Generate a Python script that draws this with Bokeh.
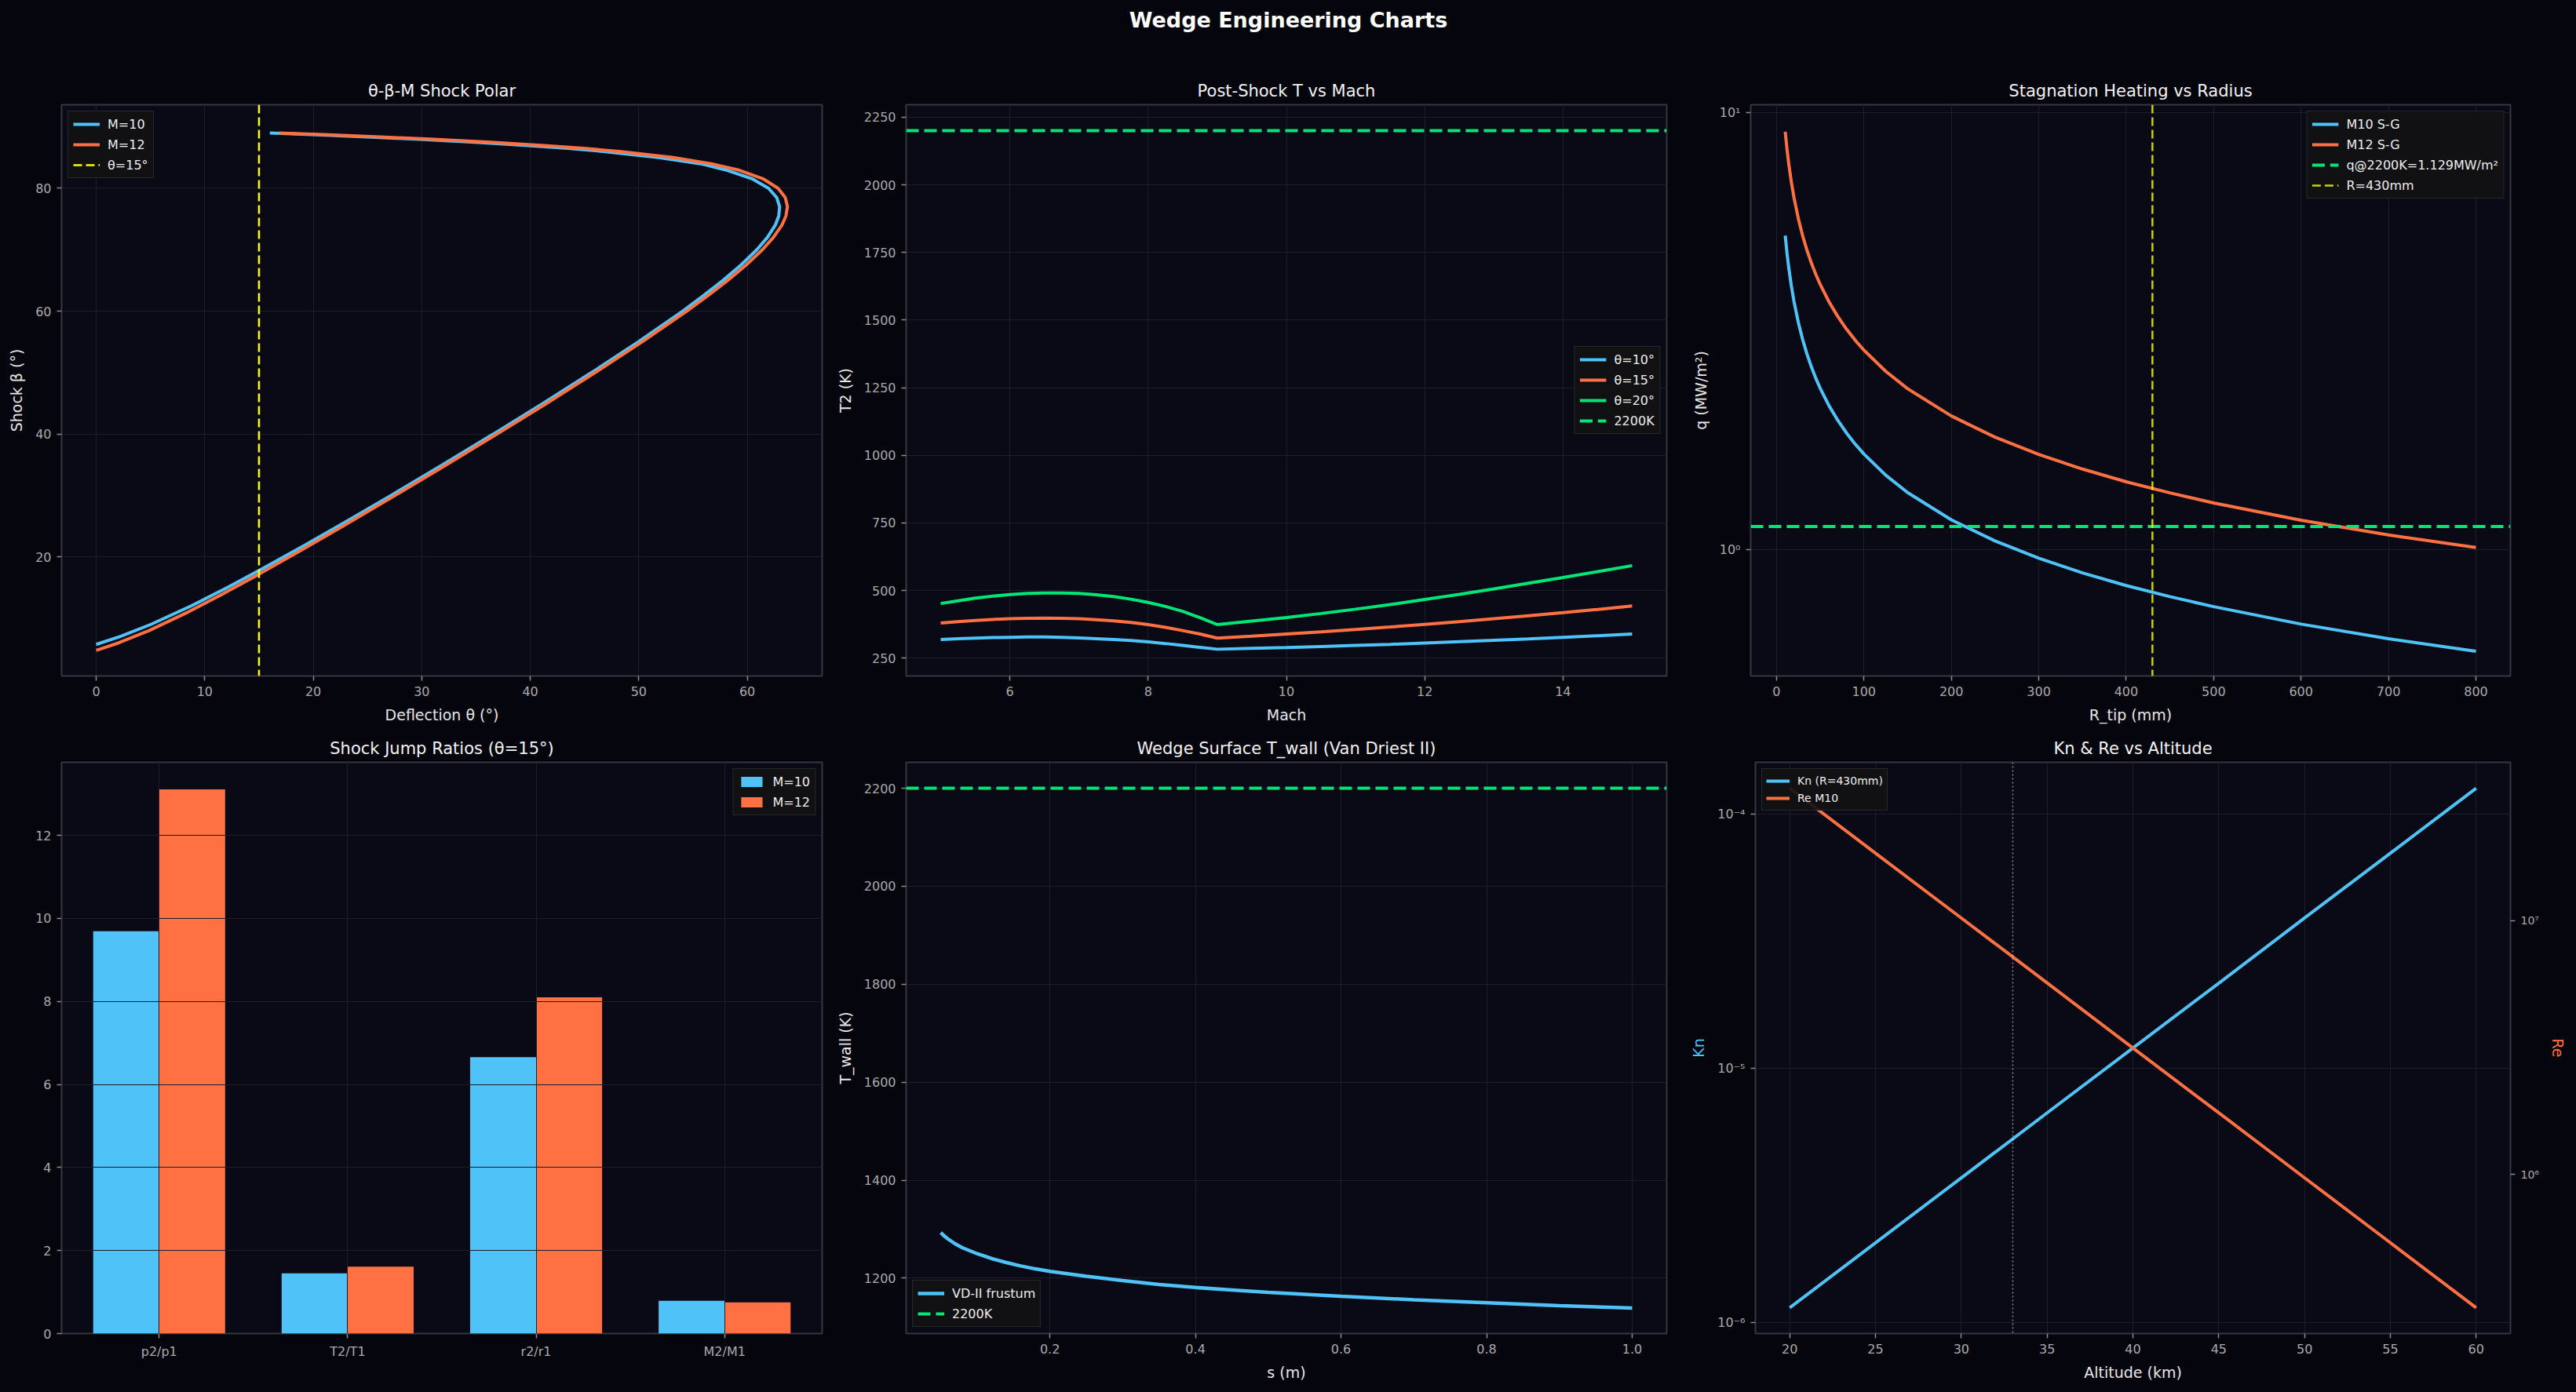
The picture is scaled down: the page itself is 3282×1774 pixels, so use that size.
from bokeh.plotting import figure
from bokeh.layouts import column, row
from bokeh.models import (Range1d, FactorRange, Span, Legend, LegendItem, FixedTicker,
                          CustomJSTickFormatter, PrintfTickFormatter, LogScale, LogAxis,
                          Label, ColumnDataSource)
from bokeh.transform import dodge
from bokeh.embed import file_html
from bokeh.resources import INLINE

# ---------------- palette ----------------
FIG_BG = "#05050d"
AX_BG = "#0a0a16"
SPINE = "#363640"
GRID = "#1d1d2b"
TICK_TXT = "#aaaaaa"
LABEL_TXT = "#e6e6e6"
BLUE = "#4fc3f7"
ORANGE = "#ff7043"
GREEN = "#00e676"
YELLOW = "#ffff00"
FONT = "DejaVu Sans"
NAN = float("nan")

# ---------------- data ----------------
# theta-beta-M shock polar (deg)
beta_m10 = [5.74, 7, 9, 12, 15, 18, 22, 26, 30, 35, 40, 45, 50, 55, 60, 62.5, 65, 67.5, 70, 72,
            74, 75.5, 77, 78.5, 80, 81.5, 83, 84, 85, 86, 86.5, 87, 87.5, 88, 88.3, 88.7, 89]
theta_m10 = [0, 2.17, 5.04, 8.74, 12.09, 15.25, 19.33, 23.28, 27.17, 31.93, 36.61, 41.19, 45.65,
             49.96, 54.04, 55.95, 57.76, 59.42, 60.88, 61.85, 62.58, 62.90, 62.98, 62.71, 61.96,
             60.50, 57.99, 55.70, 51.82, 46.72, 43.43, 39.51, 34.87, 29.42, 25.74, 20.36, 16.0]
beta_m12 = [4.78, 6, 8, 11, 14, 17, 21, 25, 30, 35, 40, 45, 50, 55, 60, 62.5, 65, 67.5, 70, 72,
            74, 75.5, 77, 78.5, 80, 81.5, 83, 84, 85, 86, 86.5, 87, 87.5, 88, 88.3, 88.7, 89]
theta_m12 = [0, 2.07, 4.87, 8.45, 11.71, 14.81, 18.82, 22.74, 27.55, 32.28, 36.94, 41.52, 45.98,
             50.31, 54.41, 56.36, 58.19, 59.89, 61.39, 62.40, 63.19, 63.56, 63.70, 63.50, 62.84,
             61.50, 59.13, 56.67, 53.18, 48.19, 44.92, 41.01, 36.33, 30.77, 26.99, 21.41, 16.84]
theta_ref = 15

# post-shock temperature vs Mach (K)
mach = [5, 5.25, 5.5, 5.75, 6, 6.25, 6.5, 6.75, 7, 7.25, 7.5, 7.75, 8, 8.25, 8.5, 8.75, 9,
        9.5, 10, 10.5, 11, 11.5, 12, 12.5, 13, 13.5, 14, 14.5, 15]
t2_th10 = [319, 322, 324, 326, 327, 328, 328, 327, 325, 322, 319, 315, 310, 304, 297, 290, 283,
           286, 289, 293, 297, 301, 306, 311, 316, 321, 327, 333, 339]
t2_th15 = [380, 385, 389, 393, 396, 397.5, 398, 397.5, 396, 392, 388, 382, 374, 364, 352, 339,
           324, 331, 339, 347, 356, 365, 375, 385, 396, 407, 418, 430, 443]
t2_th20 = [452, 462, 472, 479, 485, 489, 491, 491, 489, 484, 478, 468, 456, 441, 423, 400, 374,
           387, 400, 415, 431, 448, 467, 486, 506, 527, 548, 570, 592]
t_limit = 2200

# stagnation heating vs nose radius
r_tip = [10, 12, 14, 17, 20, 25, 30, 35, 40, 45, 50, 60, 70, 80, 90, 100, 125, 150, 200, 250,
         300, 350, 400, 450, 500, 600, 700, 800]
q_m10 = [5.230, 4.774, 4.420, 4.011, 3.698, 3.308, 3.020, 2.796, 2.615, 2.465, 2.339, 2.135,
         1.977, 1.849, 1.743, 1.654, 1.479, 1.350, 1.169, 1.046, 0.955, 0.884, 0.827, 0.780,
         0.740, 0.675, 0.625, 0.585]
q_m12 = [9.040, 8.252, 7.640, 6.933, 6.392, 5.717, 5.219, 4.832, 4.520, 4.261, 4.043, 3.691,
         3.417, 3.196, 3.013, 2.859, 2.557, 2.334, 2.021, 1.808, 1.650, 1.528, 1.429, 1.348,
         1.278, 1.167, 1.080, 1.011]
q_limit = 1.129
r_design = 430

# shock jump ratios at theta = 15 deg
ratio_names = ["p2/p1", "T2/T1", "r2/r1", "M2/M1"]
ratio_m10 = [9.69, 1.45, 6.66, 0.79]
ratio_m12 = [13.11, 1.61, 8.10, 0.75]

# Van Driest II wall temperature along the surface
s_m = [0.05, 0.055, 0.06, 0.07, 0.08, 0.09, 0.1, 0.12, 0.14, 0.16, 0.18, 0.2, 0.25, 0.3, 0.35,
       0.4, 0.45, 0.5, 0.6, 0.7, 0.8, 0.9, 1.0]
t_wall = [1293, 1286, 1280, 1270, 1262, 1256, 1250, 1240, 1232, 1225, 1219, 1214, 1204, 1195,
          1187, 1181, 1176, 1171, 1163, 1156, 1150, 1144, 1139]

# Knudsen / Reynolds number vs altitude
alt_km = [20, 25, 30, 35, 40, 45, 50, 55, 60]
kn = [1.145e-6, 2.06e-6, 3.71e-6, 6.68e-6, 1.202e-5, 2.16e-5, 3.90e-5, 7.01e-5, 1.262e-4]
re_m10 = [3.32e7, 1.84e7, 1.023e7, 5.68e6, 3.15e6, 1.75e6, 9.71e5, 5.39e5, 2.99e5]
alt_mark = 33

SUP_JS = """
const sup = {"-": "\u207b", "0": "\u2070", "1": "\u00b9", "2": "\u00b2", "3": "\u00b3",
             "4": "\u2074", "5": "\u2075", "6": "\u2076", "7": "\u2077", "8": "\u2078", "9": "\u2079"};
const e = Math.round(Math.log10(tick));
return "10" + String(e).split("").map(c => sup[c]).join("");
"""


def style_axis(ax, label, color=LABEL_TXT):
    ax.axis_label = label
    ax.axis_label_text_font = FONT
    ax.axis_label_text_font_size = "19px"
    ax.axis_label_text_font_style = "normal"
    ax.axis_label_text_color = color
    ax.axis_label_standoff = 10
    ax.major_label_text_font = FONT
    ax.major_label_text_font_size = "16px"
    ax.major_label_text_color = TICK_TXT
    ax.major_label_standoff = 7
    ax.axis_line_color = None
    ax.major_tick_line_color = "#8a8a8a"
    ax.major_tick_line_width = 1.5
    ax.major_tick_in = 0
    ax.major_tick_out = 6
    ax.minor_tick_line_color = None


def make_fig(title, width, height, bl, br, bt, bb, xlabel, ylabel, **kw):
    p = figure(width=width, height=height, title=title, output_backend="svg",
               toolbar_location=None, min_border_left=bl, min_border_right=br,
               min_border_top=bt, min_border_bottom=bb, **kw)
    p.background_fill_color = AX_BG
    p.border_fill_color = FIG_BG
    p.outline_line_color = SPINE
    p.outline_line_width = 2
    p.title.text_color = "#f2f2f2"
    p.title.text_font = FONT
    p.title.text_font_size = "21px"
    p.title.text_font_style = "normal"
    p.title.align = "center"
    p.title.standoff = 12
    style_axis(p.xaxis[0], xlabel)
    style_axis(p.yaxis[0], ylabel)
    p.grid.grid_line_color = GRID
    p.grid.grid_line_width = 1
    return p


def set_ticks(p, xt=None, yt=None):
    if xt is not None:
        t = FixedTicker(ticks=xt)
        p.xaxis[0].ticker = t
        p.xgrid[0].ticker = t
    if yt is not None:
        t = FixedTicker(ticks=yt)
        p.yaxis[0].ticker = t
        p.ygrid[0].ticker = t


def legend_line(p, **style):
    # renderer that only supplies a legend swatch for a Span reference line
    return p.line([NAN], [NAN], **style)


def add_legend(p, items, location, font_size="16px", padding=6, spacing=6, glyph_w=34):
    leg = Legend(items=[LegendItem(label=l, renderers=[r]) for l, r in items],
                 location=location, margin=8, padding=padding, spacing=spacing,
                 glyph_width=glyph_w, glyph_height=16, label_height=20,
                 label_standoff=10,
                 background_fill_color="#121214", background_fill_alpha=0.92,
                 border_line_color="#3c3c44", border_line_width=1.5,
                 label_text_color="#ececec", label_text_font=FONT,
                 label_text_font_size=font_size)
    p.add_layout(leg)
    return leg


# column / row geometry
W1, W2, W3 = 1062, 1088, 1132
H1, H2 = 870, 844

# ---------------- header ----------------
header = figure(width=3282, height=60, output_backend="svg", toolbar_location=None,
                x_axis_type=None, y_axis_type=None, min_border=0)
header.background_fill_color = FIG_BG
header.border_fill_color = FIG_BG
header.outline_line_color = None
header.grid.visible = False
header.add_layout(Label(x=1641, y=35, x_units="screen", y_units="screen",
                        text="Wedge Engineering Charts", text_align="center",
                        text_baseline="middle", text_font=FONT, text_font_size="27px",
                        text_font_style="bold", text_color="#ffffff"))

# ---------------- shock polar ----------------
p1 = make_fig("θ-β-M Shock Polar", W1, H1, 78, 15, 73, 69, "Deflection θ (°)", "Shock β (°)",
              x_range=Range1d(-3.19, 66.9), y_range=Range1d(0.6, 93.6))
set_ticks(p1, [0, 10, 20, 30, 40, 50, 60], [20, 40, 60, 80])
r10 = p1.line(theta_m10, beta_m10, line_color=BLUE, line_width=4)
r12 = p1.line(theta_m12, beta_m12, line_color=ORANGE, line_width=4)
ref_style = dict(line_color=YELLOW, line_width=2.5, line_dash="11 5")
p1.add_layout(Span(location=theta_ref, dimension="height", **ref_style))
rref = legend_line(p1, **ref_style)
add_legend(p1, [("M=10", r10), ("M=12", r12), ("θ=15°", rref)], "top_left")

# ---------------- post-shock T ----------------
p2 = make_fig("Post-Shock T vs Mach", W2, H1, 92, 27, 73, 69, "Mach", "T2 (K)",
              x_range=Range1d(4.5, 15.5), y_range=Range1d(184, 2296))
set_ticks(p2, [6, 8, 10, 12, 14], [250, 500, 750, 1000, 1250, 1500, 1750, 2000, 2250])
a = p2.line(mach, t2_th10, line_color=BLUE, line_width=4)
b = p2.line(mach, t2_th15, line_color=ORANGE, line_width=4)
c = p2.line(mach, t2_th20, line_color=GREEN, line_width=4)
lim_style = dict(line_color=GREEN, line_width=4, line_dash="16 7")
p2.add_layout(Span(location=t_limit, dimension="width", **lim_style))
d = legend_line(p2, **lim_style)
add_legend(p2, [("θ=10°", a), ("θ=15°", b), ("θ=20°", c), ("2200K", d)], "center_right")

# ---------------- stagnation heating ----------------
p3 = make_fig("Stagnation Heating vs Radius", W3, H1, 80, 84, 73, 69, "R_tip (mm)", "q (MW/m²)",
              x_range=Range1d(-29.5, 839.5), y_range=Range1d(0.5135, 10.42),
              y_axis_type="log")
set_ticks(p3, list(range(0, 801, 100)), [1, 10])
p3.yaxis[0].formatter = CustomJSTickFormatter(code=SUP_JS)
a = p3.line(r_tip, q_m10, line_color=BLUE, line_width=4)
b = p3.line(r_tip, q_m12, line_color=ORANGE, line_width=4)
p3.add_layout(Span(location=q_limit, dimension="width", **lim_style))
r_style = dict(line_color=YELLOW, line_alpha=0.8, line_width=2.5, line_dash="11 5")
p3.add_layout(Span(location=r_design, dimension="height", **r_style))
c = legend_line(p3, **lim_style)
d = legend_line(p3, **r_style)
add_legend(p3, [("M10 S-G", a), ("M12 S-G", b), (f"q@2200K={q_limit}MW/m²", c),
                (f"R={r_design}mm", d)], "top_right")

# ---------------- shock jump ratios ----------------
src = ColumnDataSource(dict(name=ratio_names, m10=ratio_m10, m12=ratio_m12))
p4 = make_fig("Shock Jump Ratios (θ=15°)", W1, H2, 78, 15, 41, 75, "", "",
              x_range=FactorRange(factors=ratio_names, range_padding=0.00875,
                                  range_padding_units="percent"),
              y_range=Range1d(0, 13.76))
p4.xaxis[0].axis_label = None
p4.yaxis[0].axis_label = None
t = FixedTicker(ticks=[0, 2, 4, 6, 8, 10, 12])
p4.yaxis[0].ticker = t
p4.ygrid[0].ticker = t
p4.grid.level = "annotation"
a = p4.vbar(x=dodge("name", -0.175, range=p4.x_range), top="m10", width=0.35, source=src,
            fill_color=BLUE, line_color=None)
b = p4.vbar(x=dodge("name", 0.175, range=p4.x_range), top="m12", width=0.35, source=src,
            fill_color=ORANGE, line_color=None)
add_legend(p4, [("M=10", a), ("M=12", b)], "top_right")

# ---------------- wall temperature ----------------
p5 = make_fig("Wedge Surface T_wall (Van Driest II)", W2, H2, 92, 27, 41, 75, "s (m)", "T_wall (K)",
              x_range=Range1d(0.0025, 1.0475), y_range=Range1d(1087, 2253))
set_ticks(p5, [0.2, 0.4, 0.6, 0.8, 1.0], [1200, 1400, 1600, 1800, 2000, 2200])
p5.xaxis[0].formatter = PrintfTickFormatter(format="%.1f")
a = p5.line(s_m, t_wall, line_color=BLUE, line_width=4.5)
p5.add_layout(Span(location=t_limit, dimension="width", **lim_style))
b = legend_line(p5, **lim_style)
add_legend(p5, [("VD-II frustum", a), ("2200K", b)], "bottom_left")

# ---------------- Kn & Re ----------------
p6 = make_fig("Kn & Re vs Altitude", W3, H2, 80, 84, 41, 75, "Altitude (km)", "Kn",
              x_range=Range1d(18, 62), y_range=Range1d(9.06e-7, 1.596e-4), y_axis_type="log")
set_ticks(p6, [20, 25, 30, 35, 40, 45, 50, 55, 60], [1e-6, 1e-5, 1e-4])
p6.yaxis[0].formatter = CustomJSTickFormatter(code=SUP_JS)
p6.yaxis[0].axis_label_text_color = BLUE
p6.extra_y_ranges = {"re": Range1d(2.366e5, 4.198e7)}
p6.extra_y_scales = {"re": LogScale()}
ax_re = LogAxis(y_range_name="re", ticker=FixedTicker(ticks=[1e6, 1e7]),
                formatter=CustomJSTickFormatter(code=SUP_JS))
style_axis(ax_re, "Re", ORANGE)
ax_re.major_label_text_font_size = "14px"
p6.add_layout(ax_re, "right")
p6.add_layout(Span(location=alt_mark, dimension="height", line_color="#ffffff",
                   line_alpha=0.5, line_width=1.5, line_dash="2 3"))
a = p6.line(alt_km, kn, line_color=BLUE, line_width=4)
b = p6.line(alt_km, re_m10, line_color=ORANGE, line_width=4, y_range_name="re")
add_legend(p6, [("Kn (R=430mm)", a), ("Re M10", b)], "top_left", font_size="14px",
           padding=5, spacing=2, glyph_w=30)

layout = column(header, row(p1, p2, p3), row(p4, p5, p6))
html = file_html(layout, INLINE, title="Wedge Engineering Charts")
html = html.replace("<body>", '<body style="margin:0;background:#05050d;">')
open("out.html", "w").write(html)
